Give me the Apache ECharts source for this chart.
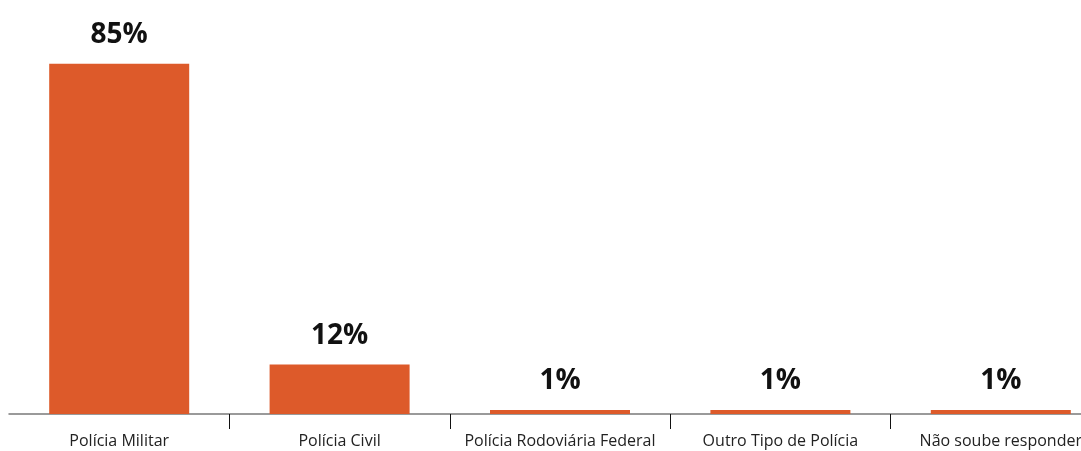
<!DOCTYPE html>
<html>
<head>
<meta charset="utf-8">
<script src="https://cdn.jsdelivr.net/npm/echarts@6/dist/echarts.min.js"></script>
<style>
  html, body { margin: 0; padding: 0; background: #fff; }
  #chart { width: 1081px; height: 451px; }
</style>
</head>
<body>
<div id="chart"></div>
<script>
  const categories = ["Polícia Militar", "Polícia Civil", "Polícia Rodoviária Federal", "Outro Tipo de Polícia", "Não soube responder"];
  const values = [85, 12, 1, 1, 1];

  const chart = echarts.init(document.getElementById("chart"));
  chart.setOption({
    animation: false,
    grid: { left: 9, right: -30, top: 2, bottom: 37, outerBoundsMode: "none", containLabel: false },
    xAxis: {
      type: "category",
      data: categories,
      axisLine: { show: true, lineStyle: { color: "#7a7a7a", width: 1.5 } },
      axisTick: {
        show: true,
        // no tick at the left end of the axis
        interval: function (idx) { return idx > 0; },
        length: 15,
        lineStyle: { color: "#111", width: 1 }
      },
      axisLabel: {
        interval: 0,
        color: "#222",
        fontFamily: "Open Sans",
        fontSize: 16,
        margin: 19
      }
    },
    yAxis: {
      type: "value",
      min: 0,
      max: 100,
      show: false,
      splitLine: { show: false }
    },
    series: [{
      type: "bar",
      data: values,
      barWidth: 140,
      itemStyle: { color: "#dd5a2a" },
      label: {
        show: true,
        position: "top",
        distance: 15,
        formatter: "{c}%",
        color: "#111",
        fontFamily: "Open Sans",
        fontWeight: "bold",
        fontSize: 28
      }
    }]
  });
</script>
</body>
</html>
